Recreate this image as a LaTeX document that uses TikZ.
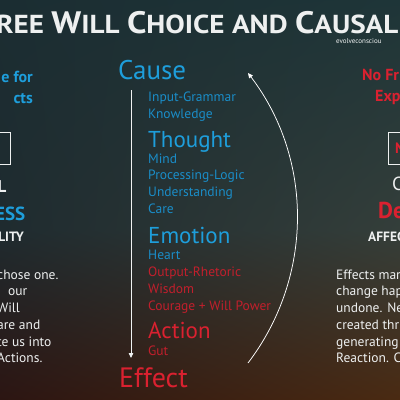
\documentclass[tikz,border=0pt]{standalone}
\usepackage{fontspec}
\setmainfont{PT Sans}
\newfontfamily\titlefont[FakeStretch=1.12]{PT Sans}
\usetikzlibrary{arrows.meta,shadings}
\definecolor{ink}{HTML}{EEF0F0}
\definecolor{sky}{HTML}{1E9EDB}
\definecolor{skydim}{HTML}{1A8DC8}
\definecolor{crimson}{HTML}{DA2130}
\definecolor{crimsondim}{HTML}{C21F2C}
\definecolor{deeptop}{HTML}{1B2D32}
\definecolor{tealtop}{HTML}{1E3538}
\definecolor{deepmid}{HTML}{1F2B2F}
\definecolor{sagemid}{HTML}{343E3A}
\definecolor{rustlow}{HTML}{2C1512}
\definecolor{amberlow}{HTML}{4A2A12}
\newcommand{\initial}[1]{{\fontsize{31}{31}\selectfont #1}}

\begin{document}
\begin{tikzpicture}[x=1pt,y=-1pt,>={Triangle[length=5pt,width=4.5pt]},
  txt/.style={inner sep=0pt,anchor=base west},
  head/.style={txt,text=sky,font=\fontsize{23}{23}\selectfont},
  sub/.style={txt,align=left,text=skydim,font=\fontsize{13.5}{16.8}\selectfont},
  prose/.style={txt,align=left,text=ink,font=\fontsize{13.5}{16.7}\selectfont},
  flow/.style={->,white,line width=0.75pt}]
  \useasboundingbox (0,0) rectangle (400,400);
  \clip (0,0) rectangle (400,400);
  % backdrop
  \shade[upper left=deeptop,upper right=tealtop,
         lower left=deepmid,lower right=sagemid] (0,0) rectangle (400,230);
  \shade[upper left=deepmid,upper right=sagemid,
         lower left=rustlow,lower right=amberlow] (0,230) rectangle (400,400);

  % title (multi-line nodes sit on their last baseline)
  \node[txt,text=ink,font=\titlefont\bfseries\fontsize{26}{26}\selectfont] (title) at (-4,33)
    {REE \initial{W}ILL \initial{C}HOICE AND \initial{C}AUSALI};
  \node[txt,text=ink!75,font=\fontsize{7}{7}\selectfont] (site) at (336,43) {evolveconsciou};

  % left column
  \node[inner sep=0pt,anchor=base east,align=right,text=sky,
    font=\bfseries\fontsize{16}{21}\selectfont] (freecap) at (33,103) {e for\\cts};
  \draw[ink,line width=0.8pt] (-40,132) rectangle (10.5,164);
  \node[inner sep=0pt,anchor=base east,text=ink,font=\bfseries\fontsize{17}{17}\selectfont]
    (freeL) at (6.5,192) {L};
  \node[inner sep=0pt,anchor=base east,text=sky,font=\bfseries\fontsize{19}{19}\selectfont]
    (freeword) at (25.5,220) {ESS};
  \node[inner sep=0pt,anchor=base east,text=ink,font=\bfseries\fontsize{13.5}{13.5}\selectfont]
    (freetag) at (24,241) {LITY};
  \node[prose] (freetext) at (-3,362.7)
    {chose one.\\\hspace*{11pt}our\\Will\\are and\\te us into\\Actions.};

  % centre column
  \node[txt,text=sky,font=\fontsize{27}{27}\selectfont] (cause) at (118,79) {Cause};
  \node[sub] (causelist) at (148,118.5) {Input-Grammar\\Knowledge};
  \node[head] (thought) at (148,147) {Thought};
  \node[sub] (thoughtlist) at (148,213.5) {Mind\\Processing-Logic\\Understanding\\Care};
  \node[head] (emotion) at (148,243) {Emotion};
  \node[sub,text=crimsondim] (emotionlist) at (148,310)
    {\textcolor{skydim}{Heart}\\Output-Rhetoric\\Wisdom\\Courage + Will Power};
  \node[head,text=crimson] (action) at (148,338) {Action};
  \node[sub,text=crimsondim] (actionlist) at (148,355) {Gut};
  \node[txt,text=crimson,font=\fontsize{28}{28}\selectfont] (effect) at (119,387) {Effect};

  \draw[flow,ink!85] ([xshift=13pt,yshift=-11pt]cause.base west)
    -- ([xshift=12pt,yshift=29pt]effect.base west);
  \coordinate (loopfoot) at (248,363);
  \coordinate (loophead) at (248,73);
  \draw[flow] (loopfoot) .. controls (313.5,277) and (313.5,159) .. (loophead);

  % right column
  \node[txt,text=crimson,font=\bfseries\fontsize{16}{16}\selectfont] (nofree) at (362,80) {No Fr};
  \node[txt,text=crimson,font=\bfseries\fontsize{16}{16}\selectfont] (nofreeb) at (375,101) {Exp};
  \draw[ink,line width=0.8pt] (388,132) rectangle (440,164);
  \node[txt,text=crimson,font=\bfseries\fontsize{15}{15}\selectfont] (noN) at (395,153) {N};
  \node[txt,text=ink,font=\fontsize{19}{19}\selectfont] (noC) at (392,190) {C};
  \node[txt,text=crimson,font=\bfseries\fontsize{23}{23}\selectfont] (noword) at (378,218) {De};
  \node[txt,text=ink,font=\bfseries\fontsize{13.5}{13.5}\selectfont] (notag) at (368,241) {AFFEC};
  \node[prose] (notext) at (336,362.7)
    {Effects mar\\change hap\\undone. Ne\\created thr\\generating\\Reaction. C};
\end{tikzpicture}
\end{document}
